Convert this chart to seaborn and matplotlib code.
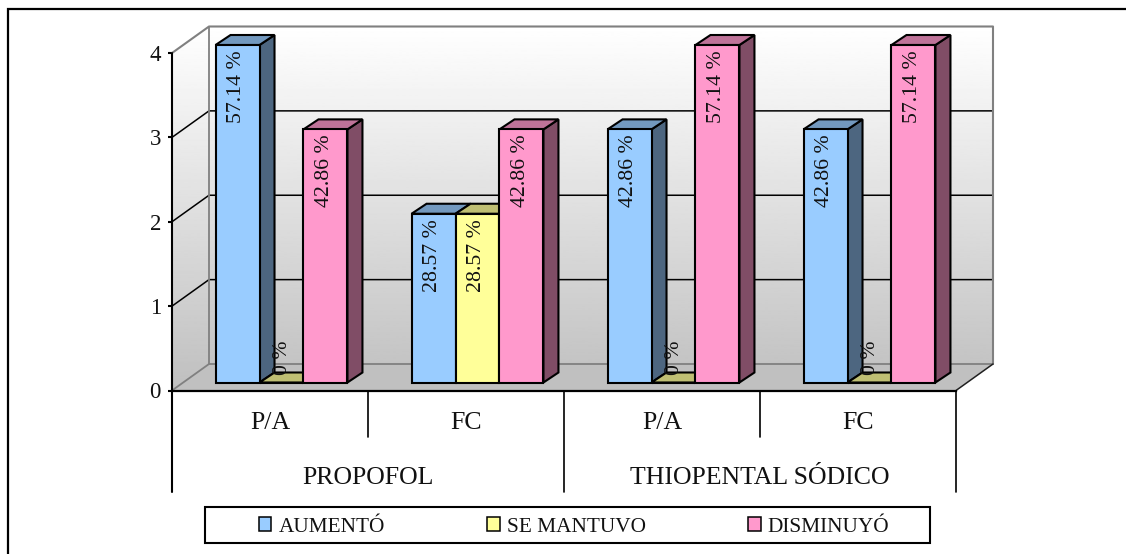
import numpy as np
import pandas as pd
import seaborn as sns
import matplotlib
matplotlib.use("Agg")
import matplotlib.pyplot as plt
from matplotlib.lines import Line2D
from matplotlib.patches import Patch, Polygon, Rectangle

# Chart values
categories = ["P/A ", "FC ", "P/A", "FC"]
tick_labels = ["P/A", "FC", "P/A", "FC"]
drugs = ["PROPOFOL", "THIOPENTAL SÓDICO"]
series = ["AUMENTÓ", "SE MANTUVO", "DISMINUYÓ"]
aumento = [4, 2, 3, 3]
se_mantuvo = [0, 2, 0, 0]
disminuyo = [3, 3, 4, 4]
aumento_pct = ["57.14 %", "28.57 %", "42.86 %", "42.86 %"]
se_mantuvo_pct = ["0 %", "28.57 %", "0 %", "0 %"]
disminuyo_pct = ["42.86 %", "42.86 %", "57.14 %", "57.14 %"]
y_ticks = [0, 1, 2, 3, 4]

front = ["#99CCFF", "#FFFF99", "#FF99CC"]
top_face = ["#7399BF", "#BFBF73", "#BF7399"]
side_face = ["#4D6680", "#808050", "#804D66"]

W, H = 1126, 554
sns.set_theme(style="white")
plt.rcParams["font.family"] = ["Liberation Serif", "DejaVu Serif"]
FS_BAR = 15.7
FS_TICK = 16.5
FS_CAT = 18.6
FS_LEG = 15.3

fig = plt.figure(figsize=(W / 100, H / 100), dpi=100, facecolor="white")
ax_l, ax_r, ax_b, ax_t = 172, 956, 390.5, 53
ax = fig.add_axes([ax_l / W, 1 - ax_b / H, (ax_r - ax_l) / W, (ax_b - ax_t) / H])

df = pd.DataFrame({
    "cat": categories * 3,
    "serie": np.repeat(series, 4),
    "valor": aumento + se_mantuvo + disminuyo,
})
sns.barplot(data=df, x="cat", y="valor", hue="serie", order=categories,
            hue_order=series, palette=front, width=0.673, dodge=True, gap=0,
            saturation=1, legend=False, ax=ax, edgecolor="black", linewidth=1.5)
ax.set_xlim(-0.5, 3.5)
ax.set_ylim(0, 4)
ax.set_xlabel("")
ax.set_ylabel("")

# pixel sizes expressed in data units
ux = 1 / 196
uy = 4 / (ax_b - ax_t)
wall_dx, wall_dy = 37 * ux, 26.5 * uy
bar_sx, bar_sy = 11.5 * ux, 8 * uy
bar_dx, bar_dy = 15 * ux, 10 * uy

# Back and side walls with a vertical gradient
x0, x1 = -0.5, 3.5
top = 4 + wall_dy
grad = np.linspace(1, 0.75, 256).reshape(-1, 1)
img = ax.imshow(grad, cmap="gray", vmin=0, vmax=1, aspect="auto",
                extent=[x0, x1 + wall_dx, 0, top], origin="upper", zorder=0.5)
clip = Polygon([(x0, 0), (x0, 4), (x0 + wall_dx, top), (x1 + wall_dx, top),
                (x1 + wall_dx, wall_dy), (x0 + wall_dx, wall_dy)],
               transform=ax.transData, closed=True, fill=False, lw=0)
ax.add_patch(clip)
img.set_clip_box(fig.bbox)
img.set_clip_path(clip)
ax.set_xlim(-0.5, 3.5)
ax.set_ylim(0, 4)

# Floor
ax.add_patch(Polygon([(x0, 0), (x1, 0), (x1 + wall_dx, wall_dy), (x0 + wall_dx, wall_dy)],
                     facecolor="#C0C0C0", edgecolor="none", zorder=0.6, clip_on=False))

grey = "#808080"
# Gridlines running along the walls
for v in y_ticks[1:4]:
    ax.plot([x0, x0 + wall_dx, x1 + wall_dx], [v, v + wall_dy, v + wall_dy],
            color="black", lw=1.1, zorder=0.8, clip_on=False)
ax.plot([x0, x0 + wall_dx, x1 + wall_dx, x1 + wall_dx],
        [4, top, top, wall_dy], color=grey, lw=1.5, zorder=0.8, clip_on=False)
ax.plot([x0 + wall_dx, x0 + wall_dx], [wall_dy, top], color=grey, lw=1.3, zorder=0.8, clip_on=False)
ax.plot([x0, x0 + wall_dx, x1 + wall_dx], [0, wall_dy, wall_dy],
        color=grey, lw=1.3, zorder=0.8, clip_on=False)
ax.plot([x1, x1 + wall_dx], [0, wall_dy], color="#202020", lw=1.1, zorder=0.8, clip_on=False)

# Extrude each bar: side and top faces behind the front face
pct = [aumento_pct, se_mantuvo_pct, disminuyo_pct]
for s, container in enumerate(ax.containers):
    for c, bar in enumerate(container):
        h = bar.get_height()
        bx0 = bar.get_x() + bar_sx
        bx1 = bx0 + bar.get_width()
        by0 = bar_sy
        by1 = by0 + h
        z = 2 + c * 10 + s * 2
        bar.set_x(bx0)
        bar.set_y(by0)
        bar.set_clip_on(False)
        bar.set_zorder(z + 1)
        ax.add_patch(Polygon([(bx1, by0), (bx1 + bar_dx, by0 + bar_dy),
                              (bx1 + bar_dx, by1 + bar_dy), (bx1, by1)],
                             facecolor=side_face[s], edgecolor="black", lw=1.5,
                             zorder=z, clip_on=False))
        ax.add_patch(Polygon([(bx0, by1), (bx1, by1), (bx1 + bar_dx, by1 + bar_dy),
                              (bx0 + bar_dx, by1 + bar_dy)],
                             facecolor=top_face[s], edgecolor="black", lw=1.5,
                             zorder=z + 0.5, clip_on=False))
        cx = (bx0 + bx1) / 2
        if h > 0:
            ax.text(cx - 1 * ux, by1 - 5 * uy, pct[s][c], rotation=90, ha="center", va="top",
                    fontsize=FS_BAR, color="#111111", zorder=60, clip_on=False)
        else:
            ax.text(cx + 1 * ux, by1 + 7.5 * uy, pct[s][c], rotation=90, ha="center",
                    va="bottom", fontsize=FS_BAR, color="#111111", zorder=60, clip_on=False)

# Axes lines and the two-level category labels
for side in ["top", "right", "left"]:
    ax.spines[side].set_visible(False)
ax.spines["bottom"].set_linewidth(1.6)
ax.spines["bottom"].set_color("black")
ax.spines["bottom"].set_zorder(70)
ax.set_yticks(y_ticks)
ax.set_xticks(range(4))
ax.set_xticklabels(tick_labels, fontsize=FS_CAT, color="#111111")
ax.tick_params(axis="x", length=0, pad=15.7)
ax.tick_params(axis="y", left=True, length=3, width=1.5, color="black", pad=5,
               labelsize=FS_TICK, labelcolor="#111111")

row1 = -46.5 * uy
row2 = -101.5 * uy
ax.plot([x0, x0], [row2, 4], color="black", lw=1.5, clip_on=False, zorder=70)
for xv in (0.5, 2.5):
    ax.plot([xv, xv], [row1, 0], color="black", lw=1.2, clip_on=False, zorder=70)
for xv in (1.5, 3.5):
    ax.plot([xv, xv], [row2, 0], color="black", lw=1.2, clip_on=False, zorder=70)
for xc, name in zip((0.5, 2.5), drugs):
    ax.text(xc, -87.5 * uy, name, ha="center", va="center", fontsize=FS_CAT, color="#111111",
            clip_on=False)

# Legend inside a fixed box
fig.add_artist(Rectangle((204.5 / W, 1 - 542.5 / H), 725.5 / W, 35.5 / H,
                         transform=fig.transFigure, facecolor="white",
                         edgecolor="black", lw=1.5))
handles = [Patch(facecolor=front[i], edgecolor="black", lw=1.1, label=series[i])
           for i in range(3)]
leg = fig.legend(handles=handles, ncol=3, loc="center", frameon=False,
                 bbox_to_anchor=(574 / W, 1 - 527 / H), fontsize=FS_LEG,
                 handlelength=0.61, handleheight=0.61, handletextpad=0.33,
                 columnspacing=4.8, borderpad=0, borderaxespad=0)
for t in leg.get_texts():
    t.set_color("#111111")

# Outer frame, open on the right and at the bottom
fig.add_artist(Line2D([8 / W, 8 / W, 1], [0, 1 - 9 / H, 1 - 9 / H], color="black", lw=1.6,
                      transform=fig.transFigure, solid_joinstyle="miter"))

fig.savefig("out.png", dpi=100, facecolor="white")
